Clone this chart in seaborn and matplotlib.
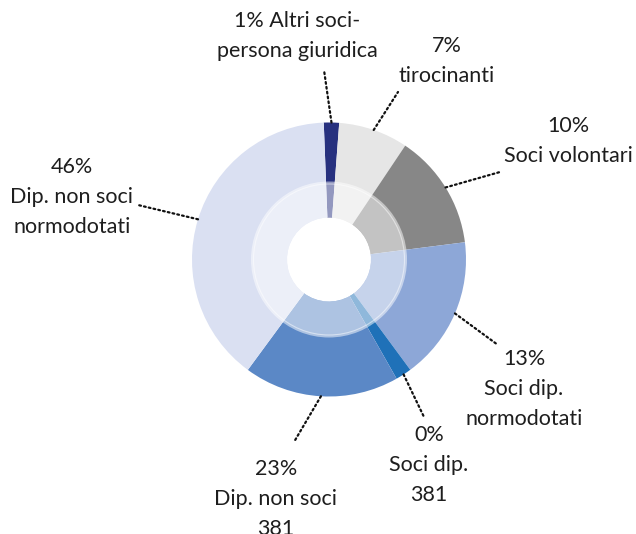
"""
Donut chart - composizione del personale
"""

import numpy as np
import matplotlib
matplotlib.use("Agg")
import matplotlib.pyplot as plt
from matplotlib.patches import Wedge, Circle
import seaborn as sns

sns.set_style("white")
plt.rcParams["font.family"] = ["Lato", "DejaVu Sans"]

W, H = 636, 534

# segment order clockwise from the top
categories = ["Altri soci-persona giuridica", "tirocinanti", "Soci volontari",
              "Soci dip. normodotati", "Soci dip. 381", "Dip. non soci 381",
              "Dip. non soci normodotati"]
shares = [1.8, 8.2, 13.6, 16.9, 1.9, 18.3, 39.3]
pct_labels = ["1%", "7%", "10%", "13%", "0%", "23%", "46%"]
label_texts = ["1% Altri soci-\npersona giuridica",
               "7%\ntirocinanti",
               "10%\nSoci volontari",
               "13%\nSoci dip.\nnormodotati",
               "0%\nSoci dip.\n381",
               "23%\nDip. non soci\n381",
               "46%\nDip. non soci\nnormodotati"]

COLORS = ["#27317f", "#e6e6e6", "#878787", "#8da7d7", "#1f71b8", "#5b88c6", "#dae0f2"]

# layout (pixel coords, y from top)
CX, CY = 329, 259.5
R_OUT, R_MID, R_IN = 137, 78, 42
text_pos = [(297, 36), (447, 61), (568, 141), (524, 389), (429, 465), (276, 499), (72, 197)]
line_end = [(324, 70), (398, 92), (500, 172), (498, 345), (424, 417), (294, 442), (138, 205)]


def px(x, y):
    return x, H - y


fig = plt.figure(figsize=(W / 100, H / 100), dpi=100)
ax = fig.add_axes([0, 0, 1, 1])

center = px(CX, CY)
wedges, _ = ax.pie(shares, radius=R_OUT, center=center, startangle=92.2,
                   counterclock=False, colors=COLORS,
                   wedgeprops=dict(width=R_OUT - R_IN, linewidth=0))

# lighter inner ring
ax.add_patch(Wedge(center, R_MID, 0, 360, width=R_MID - R_IN,
                   facecolor="white", alpha=0.5, linewidth=0))
ax.add_patch(Circle(center, R_MID - 2.5, fill=False, edgecolor="white",
                    alpha=0.5, linewidth=0.8))

for w, txt, tp, le in zip(wedges, label_texts, text_pos, line_end):
    mid = np.deg2rad((w.theta1 + w.theta2) / 2)
    x0 = center[0] + R_OUT * np.cos(mid)
    y0 = center[1] + R_OUT * np.sin(mid)
    x1, y1 = px(*le)
    ax.plot([x0, x1], [y0, y1], color="#111111", linewidth=1.6,
            linestyle=(0, (0.8, 1.4)), dash_capstyle="round", zorder=3)
    ax.text(*px(*tp), txt, ha="center", va="center", fontsize=15.5,
            fontweight="normal", color="#1e1e1e", linespacing=1.6)

ax.set_xlim(0, W)
ax.set_ylim(0, H)
ax.axis("off")

plt.savefig("out.png", dpi=100)
plt.close()
